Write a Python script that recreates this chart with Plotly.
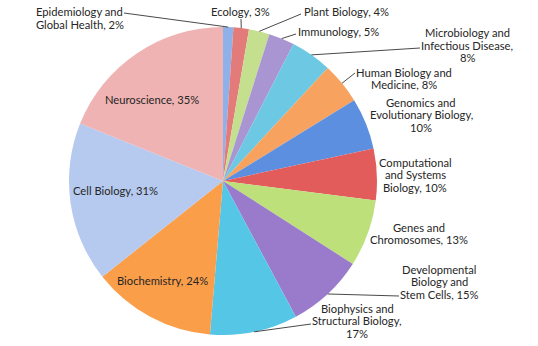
import math
import plotly.graph_objects as go

# ---- data ----
categories = [
    "Epidemiology and Global Health", "Ecology", "Plant Biology", "Immunology",
    "Microbiology and Infectious Disease", "Human Biology and Medicine",
    "Genomics and Evolutionary Biology", "Computational and Systems Biology",
    "Genes and Chromosomes", "Developmental Biology and Stem Cells",
    "Biophysics and Structural Biology", "Biochemistry", "Cell Biology", "Neuroscience",
]
values = [2, 3, 4, 5, 8, 8, 10, 10, 13, 15, 17, 24, 31, 35]
label_lines = [
    ["Epidemiology and", "Global Health, 2%"],
    ["Ecology, 3%"],
    ["Plant Biology, 4%"],
    ["Immunology, 5%"],
    ["Microbiology and", "Infectious Disease,", "8%"],
    ["Human Biology and", "Medicine, 8%"],
    ["Genomics and", "Evolutionary Biology,", "10%"],
    ["Computational", "and Systems", "Biology, 10%"],
    ["Genes and", "Chromosomes, 13%"],
    ["Developmental", "Biology and", "Stem Cells, 15%"],
    ["Biophysics and", "Structural Biology,", "17%"],
    ["Biochemistry, 24%"],
    ["Cell Biology, 31%"],
    ["Neuroscience, 35%"],
]
colors = [
    "#8fb1ea", "#e47b7b", "#c4e08e", "#a895d2", "#6cc8e3", "#f7a35f", "#5d8fe0",
    "#e25c5c", "#bde07a", "#9a7acb", "#55c6e6", "#fb9e4a", "#b6caef", "#efb3b3",
]

# ---- layout constants (pixels) ----
W, H = 538, 346
CX, CY, R = 223, 181, 154
LH = 12.5
FONT = dict(family="Lato, 'Noto Sans', sans-serif", size=11.2, color="#262626")
# (x, first line y, xanchor, leader-line start or None)
label_pos = [
    (34, 12, "left", (124, 13)),
    (240, 12, "center", (241, 19)),
    (346, 12, "center", (301, 14)),
    (338, 32, "center", (296, 34)),
    (467, 33, "center", (420, 48)),
    (404, 72, "center", (355, 73)),
    (421, 102, "center", None),
    (415, 162, "center", None),
    (419, 227, "center", None),
    (439, 269, "center", (399, 296)),
    (357, 308, "center", (311, 324)),
    (162, 280, "center", None),
    (115.5, 190, "center", None),
    (152, 100, "center", None),
]


def px(x):
    return x / W


def py(y):
    return 1 - y / H


fig = go.Figure()
fig.add_trace(go.Pie(
    labels=categories, values=values, sort=False, direction="clockwise", rotation=0,
    marker=dict(colors=colors, line=dict(width=0)),
    textinfo="none", hoverinfo="label+value", showlegend=False,
    domain=dict(x=[px(CX - R), px(CX + R)], y=[py(CY + R), py(CY - R)]),
))

total = sum(values)
annotations = []
shapes = []
cum = 0
for v, lines, (lx, ly, anchor, lead) in zip(values, label_lines, label_pos):
    ang = math.radians((cum + v / 2) / total * 360)
    cum += v
    for i, t in enumerate(lines):
        annotations.append(dict(
            x=px(lx), y=py(ly + i * LH), xref="paper", yref="paper",
            text=t, showarrow=False, xanchor=anchor, yanchor="middle", font=FONT,
        ))
    if lead is not None:
        ex = CX + R * math.sin(ang)
        ey = CY - R * math.cos(ang)
        shapes.append(dict(
            type="line", xref="paper", yref="paper",
            x0=px(lead[0]), y0=py(lead[1]), x1=px(ex), y1=py(ey),
            line=dict(color="#4a4a4a", width=1),
        ))

fig.update_layout(
    width=W, height=H, margin=dict(l=0, r=0, t=0, b=0),
    paper_bgcolor="white", plot_bgcolor="white",
    annotations=annotations, shapes=shapes,
)
fig.write_html(
    "out.html",
    config={"displayModeBar": False},
    post_script="document.body.style.margin='0';document.body.style.overflow='hidden';",
)
